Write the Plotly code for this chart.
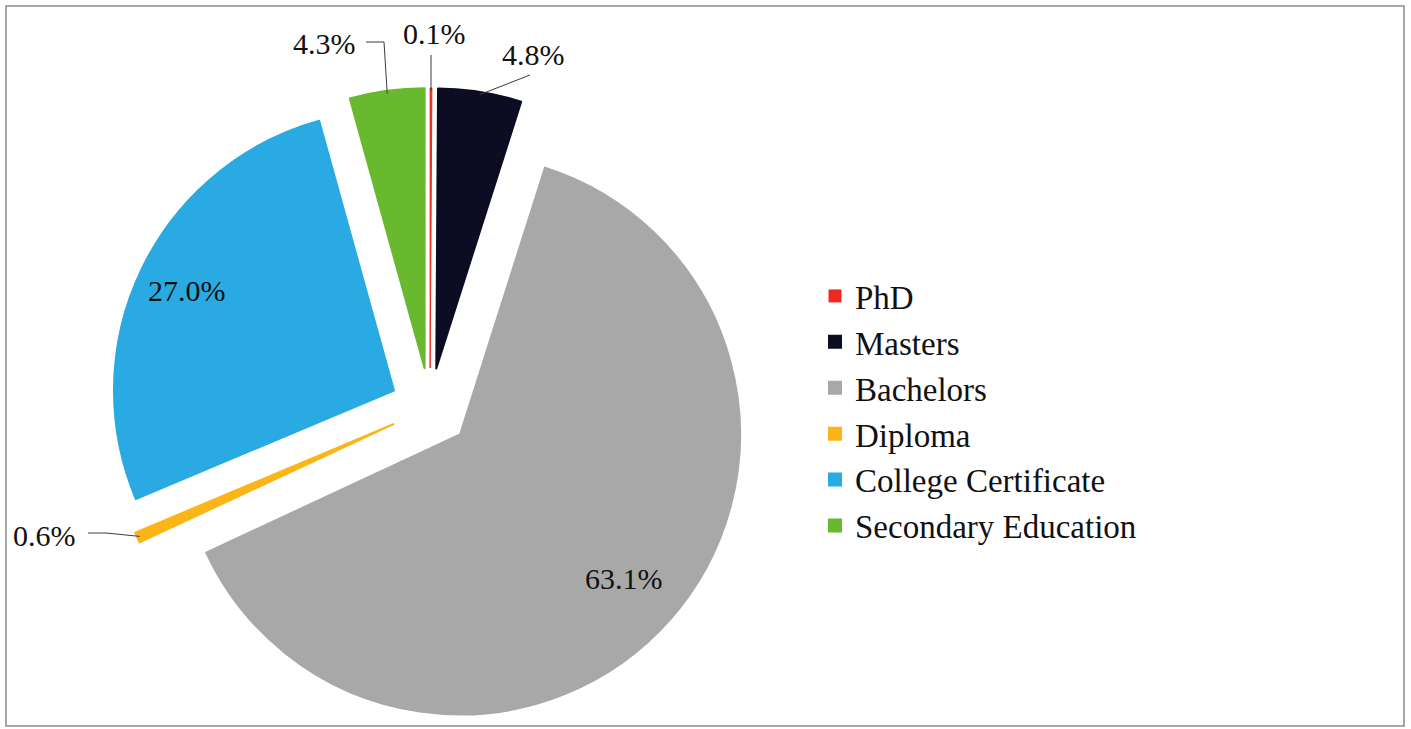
import math
import plotly.graph_objects as go

# Education level shares (%)
levels = ["PhD", "Masters", "Bachelors", "Diploma", "College Certificate", "Secondary Education"]
shares = [0.1, 4.8, 63.1, 0.6, 27.0, 4.3]
colors = ["#ee2a1e", "#0c0c22", "#a8a8a8", "#fbb517", "#2aaae3", "#68b92e"]

# Canvas and pie geometry (pixels)
W, H = 1411, 729
CX, CY = 430, 408
R = 280
PULL = 0.143
BOX = 2 * R * (1 + PULL)

FONT = "Liberation Serif"

# Label placement: "in" labels sit inside the slice at a radial fraction,
# "out" labels sit at a pixel spot with a leader line to the slice rim.
label_style = {
    "PhD": {"mode": "out", "pos": (434, 33), "path": [(431, 55)]},
    "Masters": {"mode": "out", "pos": (533, 55), "path": [(530, 75)]},
    "Bachelors": {"mode": "in", "frac": 0.78},
    "Diploma": {"mode": "out", "pos": (45, 535), "path": [(88, 533), (106, 533)]},
    "College Certificate": {"mode": "in", "frac": 0.82},
    "Secondary Education": {"mode": "out", "pos": (324, 44), "path": [(366, 42), (384, 42)]},
}


def px_to_paper(x, y):
    return x / W, 1 - y / H


total = sum(shares)
fig = go.Figure(
    go.Pie(
        labels=levels,
        values=shares,
        sort=False,
        direction="clockwise",
        rotation=0,
        pull=[PULL] * len(levels),
        marker=dict(colors=colors, line=dict(color=colors, width=[1, 2, 2, 2, 2, 2])),
        textinfo="none",
        hoverinfo="label+percent",
        domain=dict(
            x=[(CX - BOX / 2) / W, (CX + BOX / 2) / W],
            y=[1 - (CY + BOX / 2) / H, 1 - (CY - BOX / 2) / H],
        ),
    )
)

annotations = []
shapes = []
cum = 0.0
for name, v in zip(levels, shares):
    mid = (cum + v / 2) / total * 2 * math.pi
    cum += v
    ux, uy = math.sin(mid), -math.cos(mid)
    st = label_style[name]
    text = f"{v:.1f}%"
    if st["mode"] == "in":
        d = (PULL + st["frac"]) * R
        lx, ly = CX + d * ux, CY + d * uy
    else:
        lx, ly = st["pos"]
        rim = (PULL + 0.99) * R
        ex, ey = CX + rim * ux, CY + rim * uy
        pts = st["path"] + [(ex, ey)]
        path = "M " + " L ".join(
            f"{px_to_paper(px, py)[0]},{px_to_paper(px, py)[1]}" for px, py in pts
        )
        shapes.append(dict(type="path", xref="paper", yref="paper", path=path,
                           line=dict(color="#3a3a4a", width=1)))
    ax, ay = px_to_paper(lx, ly)
    annotations.append(dict(x=ax, y=ay, xref="paper", yref="paper", text=text,
                            showarrow=False, xanchor="center", yanchor="middle",
                            font=dict(family=FONT, size=30, color="#111111")))

# Outer frame
x0, y0 = px_to_paper(6, 6)
x1, y1 = px_to_paper(1404, 726)
shapes.append(dict(type="rect", xref="paper", yref="paper", x0=x0, y0=y1, x1=x1, y1=y0,
                   line=dict(color="#8a8a8a", width=1.5)))

fig.update_layout(
    width=W,
    height=H,
    margin=dict(l=0, r=0, t=0, b=0),
    paper_bgcolor="white",
    plot_bgcolor="white",
    showlegend=True,
    legend=dict(
        x=815 / W, y=1 - 268 / H, xanchor="left", yanchor="top",
        font=dict(family=FONT, size=33, color="#111111"),
        bgcolor="rgba(0,0,0,0)",
    ),
    annotations=annotations,
    shapes=shapes,
)

fig.write_html("out.html")
